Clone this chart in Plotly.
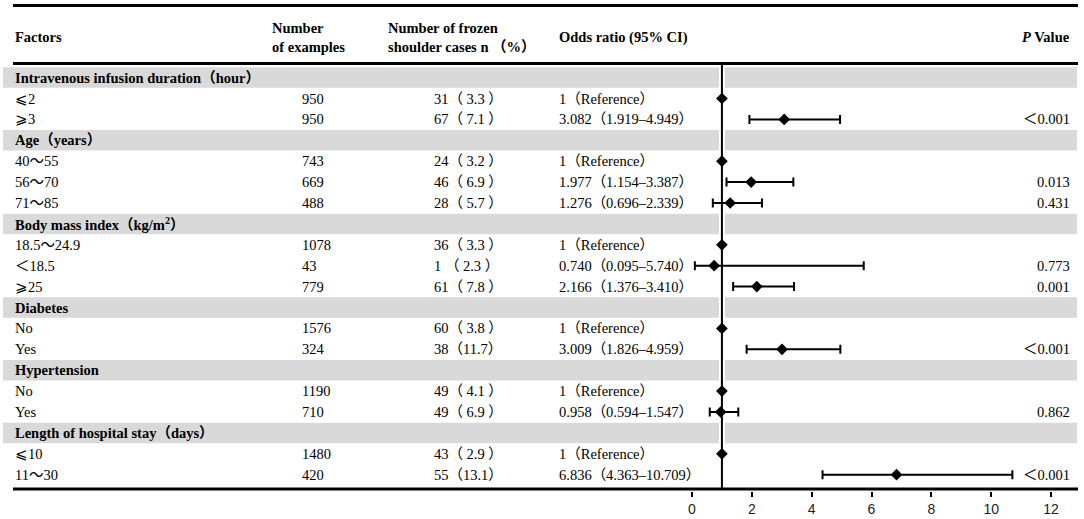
import plotly.graph_objects as go

groups = [
    "Intravenous infusion duration（hour）",
    "Age（years）",
    "Body mass index（kg/m<sup>2</sup>）",
    "Diabetes",
    "Hypertension",
    "Length of hospital stay（days）",
]
group_of = [0, 0, 1, 1, 1, 2, 2, 2, 3, 3, 4, 4, 5, 5]
factor_labels = ["⩽2", "⩾3", "40～55", "56～70", "71～85", "18.5～24.9", "＜18.5",
                 "⩾25", "No", "Yes", "No", "Yes", "⩽10", "11～30"]
n_examples = [950, 950, 743, 669, 488, 1078, 43, 779, 1576, 324, 1190, 710, 1480, 420]
n_cases = [31, 67, 24, 46, 28, 36, 1, 61, 60, 38, 49, 49, 43, 55]
pct_cases = [3.3, 7.1, 3.2, 6.9, 5.7, 3.3, 2.3, 7.8, 3.8, 11.7, 4.1, 6.9, 2.9, 13.1]
odds = [1, 3.082, 1, 1.977, 1.276, 1, 0.740, 2.166, 1, 3.009, 1, 0.958, 1, 6.836]
ci_low = [None, 1.919, None, 1.154, 0.696, None, 0.095, 1.376, None, 1.826, None, 0.594, None, 4.363]
ci_high = [None, 4.949, None, 3.387, 2.339, None, 5.740, 3.410, None, 4.959, None, 1.547, None, 10.709]
p_values = ["", "＜0.001", "", "0.013", "0.431", "", "0.773", "0.001", "", "＜0.001", "", "0.862", "", "＜0.001"]
x_ticks = [0, 2, 4, 6, 8, 10, 12]

# ---- layout constants (pixels of the 1084x519 page) ----
W, H = 1084, 519
ROW0, ROW_H = 77.6, 20.9          # centre of first row, row pitch
X0_PX, X12_PX = 692, 1051         # where OR = 0 and OR = 12 fall
COL_FACTOR, COL_N, COL_CASES, COL_OR, COL_P = 13, 300, 432, 557, 1072
LINE_L, LINE_R = 13, 1078
GRAY_L, GRAY_R = 3, 1077
TABLE_FONT = "Liberation Serif, 'Times New Roman', 'DejaVu Serif', 'Noto Sans CJK SC', serif"
FS = 14.5


def px_to_row(p):
    return (p - ROW0) / ROW_H


def px_to_paper(p):
    return p / W


unit = (X12_PX - X0_PX) / 12
x_range = [-X0_PX / unit, (W - X0_PX) / unit]
y_top = px_to_row(0)
y_bottom = px_to_row(491)

# assign table rows: group header then its factor rows
group_rows = []
data_rows = []
r = 0
for g in range(len(groups)):
    group_rows.append(r)
    r += 1
    for k, gk in enumerate(group_of):
        if gk == g:
            data_rows.append(r)
            r += 1


def cases_text(n, p):
    inner = f" {p} " if p < 10 else f"{p}"
    return f"{n} （{inner}）" if n < 10 else f"{n}（{inner}）"


def or_text(o, lo, hi):
    if lo is None:
        return "1（Reference）"
    return f"{o:.3f}（{lo:.3f}–{hi:.3f}）"


shapes = []
annotations = []

# gray group bands
for g, gr in enumerate(group_rows):
    shapes.append(dict(type="rect", xref="paper", yref="y", layer="below",
                       x0=px_to_paper(GRAY_L), x1=px_to_paper(GRAY_R),
                       y0=gr - 0.49, y1=gr + 0.49,
                       fillcolor="#d9d9d9", line=dict(width=0)))
    annotations.append(dict(text=f"<b>{groups[g]}</b>",
                            xref="paper", yref="y", x=px_to_paper(COL_FACTOR), y=gr,
                            xanchor="left", yanchor="middle", showarrow=False,
                            font=dict(family=TABLE_FONT, size=FS, color="black")))

# horizontal rules
for yp, w in [(5.5, 3), (63.5, 3), (489, 3)]:
    shapes.append(dict(type="line", xref="paper", yref="y", layer="above",
                       x0=px_to_paper(LINE_L), x1=px_to_paper(LINE_R),
                       y0=px_to_row(yp), y1=px_to_row(yp),
                       line=dict(color="black", width=w)))

# reference line at OR = 1 (white halo, then black)
for col, w in [("white", 6), ("black", 2)]:
    shapes.append(dict(type="line", xref="x", yref="y", layer="below",
                       x0=1, x1=1, y0=px_to_row(63.5), y1=px_to_row(489),
                       line=dict(color=col, width=w)))

# header
headers = [
    (COL_FACTOR, "left", "<b>Factors</b>"),
    (270, "left", "<b>Number<br>of examples</b>"),
    (386, "left", "<b>Number of frozen<br>shoulder cases n （%）</b>"),
    (COL_OR, "left", "<b>Odds ratio (95% CI)</b>"),
    (COL_P, "right", "<b><i>P</i> Value</b>"),
]
for xp, anchor, txt in headers:
    annotations.append(dict(text=txt, xref="paper", yref="y", x=px_to_paper(xp),
                            y=px_to_row(37), xanchor=anchor, yanchor="middle",
                            align="left", showarrow=False,
                            font=dict(family=TABLE_FONT, size=FS, color="black")))

# data rows
for k, row in enumerate(data_rows):
    cells = [
        (COL_FACTOR, "left", factor_labels[k]),
        (COL_N, "left", str(n_examples[k])),
        (COL_CASES, "left", cases_text(n_cases[k], pct_cases[k])),
        (COL_OR, "left", or_text(odds[k], ci_low[k], ci_high[k])),
        (COL_P, "right", p_values[k]),
    ]
    for xp, anchor, txt in cells:
        if not txt:
            continue
        annotations.append(dict(text=txt, xref="paper", yref="y", x=px_to_paper(xp),
                                y=row, xanchor=anchor, yanchor="middle", showarrow=False,
                                font=dict(family=TABLE_FONT, size=FS, color="black")))

ref_idx = [k for k in range(len(odds)) if ci_low[k] is None]
est_idx = [k for k in range(len(odds)) if ci_low[k] is not None]

fig = go.Figure()
fig.add_trace(go.Scatter(
    x=[odds[k] for k in est_idx],
    y=[data_rows[k] for k in est_idx],
    mode="markers",
    marker=dict(symbol="diamond", size=9, color="black"),
    error_x=dict(type="data", symmetric=False,
                 array=[ci_high[k] - odds[k] for k in est_idx],
                 arrayminus=[odds[k] - ci_low[k] for k in est_idx],
                 color="black", thickness=2, width=4.5),
    showlegend=False, hoverinfo="skip",
))
fig.add_trace(go.Scatter(
    x=[odds[k] for k in ref_idx],
    y=[data_rows[k] for k in ref_idx],
    mode="markers",
    marker=dict(symbol="diamond", size=9, color="black"),
    showlegend=False, hoverinfo="skip",
))

fig.update_layout(
    width=W, height=H,
    margin=dict(l=0, r=0, t=0, b=0),
    paper_bgcolor="white", plot_bgcolor="white",
    shapes=shapes, annotations=annotations,
    xaxis=dict(range=x_range, domain=[0, 1], showgrid=False, zeroline=False,
               showline=False, tickmode="array", tickvals=x_ticks,
               ticks="outside", ticklen=5, tickwidth=2, tickcolor="black",
               tickfont=dict(family="Liberation Sans, Arial, sans-serif", size=14, color="#222"),
               automargin=False),
    yaxis=dict(range=[y_bottom, y_top], domain=[1 - 491 / H, 1], visible=False,
               showgrid=False, zeroline=False, automargin=False),
)

fig.write_html("out.html", config={"displayModeBar": False},
               post_script="document.body.style.margin='0';")
